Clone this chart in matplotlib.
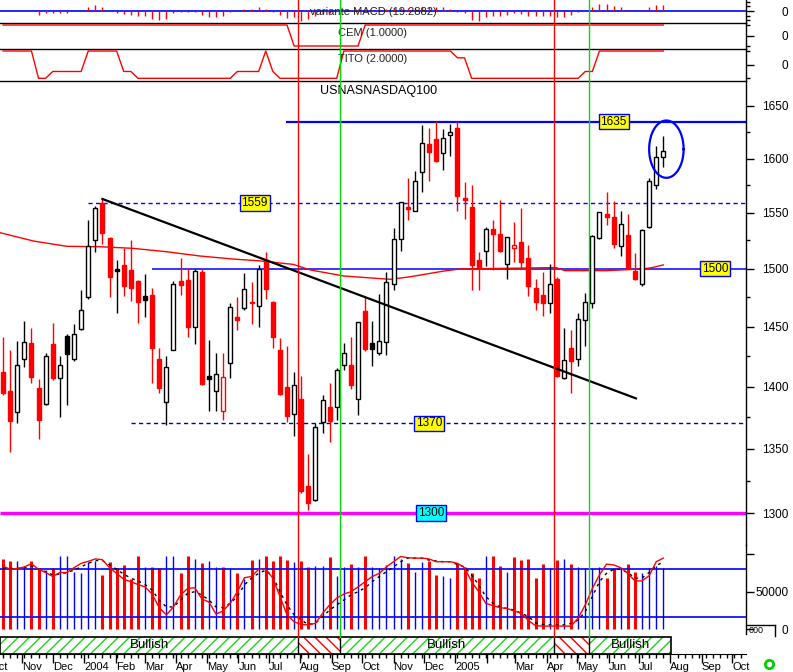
import numpy as np
import pandas as pd
import matplotlib
matplotlib.use("Agg")
import matplotlib.pyplot as plt
import matplotlib.dates as mdates
import matplotlib.transforms as mtransforms
from matplotlib.lines import Line2D
from matplotlib.patches import Rectangle
from matplotlib.ticker import FixedLocator, FuncFormatter, NullFormatter

plt.rcParams['font.family'] = ['Liberation Sans', 'DejaVu Sans']

# weekly bars NASDAQ 100, Oct 2003 - Jul 2005
weeks = pd.date_range('2003-10-13', periods=94, freq='7D')

bar_open = [1412, 1396, 1379, 1423, 1436, 1399, 1386, 1435, 1407, 1427,
            1423, 1448, 1475, 1525, 1559, 1527, 1500, 1503, 1499, 1489,
            1473, 1477, 1423, 1387, 1430, 1489, 1490, 1450, 1497, 1406,
            1396, 1408, 1419, 1458, 1466, 1471, 1468, 1508, 1471, 1430,
            1400, 1378, 1390, 1321, 1310, 1371, 1383, 1383, 1418, 1418,
            1390, 1463, 1431, 1428, 1437, 1487, 1526, 1555, 1552, 1587,
            1614, 1618, 1605, 1622, 1629, 1563, 1555, 1508, 1516, 1535,
            1531, 1504, 1521, 1524, 1509, 1483, 1477, 1470, 1491, 1407,
            1432, 1423, 1456, 1470, 1527, 1549, 1546, 1520, 1530, 1498,
            1487, 1537, 1575, 1601]
bar_high = [1441, 1430, 1438, 1455, 1449, 1406, 1428, 1453, 1425, 1444,
            1452, 1481, 1543, 1556, 1563, 1528, 1508, 1518, 1525, 1490,
            1495, 1483, 1432, 1425, 1489, 1509, 1501, 1500, 1500, 1439,
            1428, 1428, 1470, 1475, 1496, 1488, 1503, 1515, 1472, 1440,
            1434, 1412, 1409, 1346, 1370, 1393, 1403, 1415, 1436, 1441,
            1454, 1475, 1455, 1478, 1497, 1536, 1560, 1582, 1588, 1632,
            1629, 1636, 1628, 1633, 1636, 1578, 1575, 1515, 1537, 1543,
            1562, 1528, 1542, 1554, 1521, 1491, 1497, 1504, 1493, 1449,
            1447, 1462, 1479, 1530, 1551, 1569, 1561, 1552, 1549, 1514,
            1535, 1582, 1612, 1621]
bar_low = [1393, 1347, 1370, 1416, 1403, 1358, 1385, 1405, 1375, 1385,
           1421, 1447, 1474, 1515, 1522, 1475, 1462, 1476, 1472, 1453,
           1458, 1403, 1395, 1369, 1430, 1477, 1441, 1435, 1401, 1380,
           1380, 1373, 1407, 1447, 1464, 1452, 1450, 1474, 1432, 1393,
           1371, 1360, 1315, 1302, 1309, 1362, 1355, 1373, 1414, 1398,
           1377, 1429, 1417, 1426, 1426, 1481, 1516, 1543, 1552, 1569,
           1579, 1597, 1589, 1602, 1552, 1544, 1481, 1481, 1502, 1499,
           1515, 1491, 1506, 1500, 1476, 1464, 1459, 1462, 1408, 1406,
           1395, 1417, 1434, 1466, 1526, 1539, 1518, 1511, 1500, 1490,
           1485, 1536, 1572, 1592]
bar_close = [1395, 1372, 1418, 1437, 1408, 1373, 1425, 1407, 1418, 1442,
             1444, 1464, 1520, 1554, 1532, 1493, 1498, 1485, 1483, 1471,
             1476, 1432, 1399, 1416, 1487, 1486, 1450, 1498, 1402, 1409,
             1410, 1380, 1467, 1456, 1482, 1470, 1500, 1482, 1441, 1393.5,
             1376, 1401, 1317, 1308, 1367.5, 1389, 1372, 1414, 1427.5, 1401,
             1453.7, 1431, 1436, 1438, 1488, 1526, 1559.5, 1553, 1579, 1615,
             1606, 1598, 1619, 1625, 1565, 1561.6, 1503, 1501, 1535, 1531,
             1516, 1527.8, 1518, 1506, 1485, 1471, 1470.5, 1487, 1408.7, 1422,
             1421, 1456.5, 1471, 1529, 1551, 1546, 1522, 1539.5, 1500.4, 1491,
             1534.4, 1579, 1601, 1607]
# w = hollow, r = red, k = black, h = hollow red
bar_type = ("rrwwrrwrwk" "wwwwrrkrrr" "krrwwrrwrk" "whwrwrwrrr" "rwrrwwrwwr"
            "wrkwwwwrww" "rrwwrrrrwr" "rwhrrrrwrw" "rwwwwrrwrr" "wwww")

volume = [93500, 91000, 91000, 83000, 91000, 82000, 79000, 82000, 97500, 97500,
          76500, 75000, 90000, 91000, 72000, 90000, 82000, 85500, 66500, 97500,
          83000, 83000, 82000, 97500, 97500, 74500, 97500, 93500, 88500, 91000,
          83000, 83000, 82000, 74500, 66500, 92000, 93500, 97500, 91000, 97500,
          92000, 90000, 91000, 83000, 84500, 84500, 96000, 71000, 83000, 86500,
          83000, 97500, 83000, 82000, 85500, 97500, 93500, 88000, 76500, 90000,
          91000, 72000, 71000, 68000, 88000, 83000, 75000, 68000, 97500, 97500,
          84500, 76500, 96000, 92000, 93500, 68500, 87000, 81000, 92000, 93500,
          87000, 83000, 82000, 81000, 83000, 68000, 81000, 82000, 87000, 76500,
          74500, 82000, 84500, 82000]

stoch_k = [84, 80, 81, 83, 87, 80, 76, 71, 76, 76,
           82, 87.5, 90, 93, 92, 82, 75, 67.5, 64.5, 61,
           58, 49, 32, 23, 33, 48, 56, 57, 43, 39,
           24, 28, 37.5, 52, 69.5, 71, 80, 80, 69, 46,
           23, 14.5, 11, 10.5, 12.5, 25, 35.5, 44, 49, 52,
           58, 64.5, 71, 75, 83, 89.5, 96, 94.5, 94, 94,
           93, 89.5, 89.5, 89.5, 87.5, 82, 64.5, 52, 37.5, 34.5,
           32, 31, 28, 25, 16, 9.5, 9, 9, 9, 9,
           9, 19, 35.5, 56, 73, 86.5, 85.5, 82, 75, 65.5,
           65.5, 72, 89.5, 94]
stoch_d = [82, 81, 81, 82, 84, 80, 77, 73, 74, 76,
           79, 83, 87.5, 91, 91, 85.5, 80, 74, 69, 65.5,
           61, 54, 41.5, 33, 33, 41.5, 50, 52, 48, 41.5,
           33, 32, 37.5, 46, 60.5, 69, 75, 79, 71, 52,
           35.5, 23, 16.5, 11, 12.5, 21, 29, 35.5, 41.5, 48,
           52, 57, 64.5, 71, 77, 83, 89.5, 94, 94, 94,
           91.5, 90.5, 89.5, 89.5, 86, 83, 73, 60.5, 46, 37.5,
           33, 31, 29, 25, 21, 13, 11, 10.5, 10.5, 10.5,
           12.5, 16.5, 27, 46, 64.5, 75, 80, 80, 76, 69,
           69, 76, 84.5, 89.5]

macd_hist = [0, 0, 0, 0, 0, -4, -2.3, -2.3, -2.3, -1.7,
             -0.3, 0.3, 3.7, 6.3, 4.3, 0.3, -1.7, -3, -4, -4.7,
             -4.7, -8, -9, -8, -2.3, -0.5, -0.5, -0.5, -4, -5.7,
             -5.7, -4.7, -0.5, 0.5, 2, 2, 3.7, 2, -0.5, -4,
             -6.7, -5.7, -9.7, -8, -5, -3, -1.5, 0, 1, 1,
             1.5, 1, 1, 1.5, 2, 3, 3, 3, 3, 3.5,
             4, 4.3, 3.7, 2, -1.3, -2.3, -9, -9.7, -6.3, -4.7,
             -4.7, -4, -2.3, -3, -4.7, -4.7, -4.7, -4.7, -6.3, -5.7,
             -4, -1.3, 0, 3.7, 7, 7, 5.3, 4.3, 1, 0.3,
             0.3, 3.7, 6, 6]
cem = [1, 1, 1, 1, 1, 1, 1, 1, 1, 1,
       1, 1, 1, 1, 1, 1, 1, 1, 1, 1,
       1, 1, 1, 1, 1, 1, 1, 1, 1, 1,
       1, 1, 1, 1, 1, 1, 1, 1, 1, 1,
       1, 0, 0, 0, 0, 0, 0, 0, 0, 0,
       0, 1, 1, 1, 1, 1, 1, 1, 1, 1,
       1, 1, 1, 1, 1, 1, 1, 1, 1, 1,
       1, 1, 1, 1, 1, 1, 1, 1, 1, 1,
       1, 1, 1, 1, 1, 1, 1, 1, 1, 1,
       1, 1, 1, 1]
tito = [2, 2, 2, 2, 2, 0, 0, 0.5, 0.5, 0.5,
        0.5, 0.5, 2, 2, 2, 2, 2, 0.5, 0.5, 0,
        0, 0, 0, 0, 0, 0, 0, 0, 0, 0,
        0, 0, 0, 0.5, 0.5, 0.5, 0.5, 2, 0.5, 0,
        0, 0, 0, 0, 0, 0, 0, 0, 2, 2,
        2, 2, 2, 2, 2, 2, 2, 2, 2, 2,
        2, 2, 2, 2, 1.5, 1.5, 0, 0, 0, 0,
        0, 0, 0, 0, 0, 0, 0, 0, 0, 0,
        0, 0, 0.5, 0.5, 2, 2, 2, 2, 2, 2,
        2, 2, 2, 2]

# moving average
ma_dates = ['2003-10-10', '2003-11-12', '2003-12-15', '2004-01-17', '2004-02-18',
            '2004-03-22', '2004-04-24', '2004-05-27', '2004-06-22', '2004-07-25',
            '2004-08-11', '2004-09-13', '2004-10-16', '2004-10-29', '2004-11-18',
            '2004-12-21', '2005-01-06', '2005-03-06', '2005-04-10', '2005-04-19',
            '2005-05-30', '2005-07-05', '2005-07-14', '2005-07-25']
ma_values = [1532, 1524.5, 1519.8, 1519.4, 1518, 1515, 1511.2, 1508.5, 1506.9, 1503.8,
             1498.9, 1493.6, 1491.5, 1490.7, 1493, 1498, 1499.8, 1500.5, 1501, 1498.3,
             1498.3, 1499.8, 1501, 1503.3]

trend_dates = ['2004-01-19', '2005-06-28']
trend_values = [1562.5, 1390.3]

sell_dates = ['2004-07-30', '2005-04-08']
buy_dates = ['2004-09-09', '2005-05-13']
band_end = '2005-08-02'

W, H = 793, 672
fig = plt.figure(figsize=(W / 100, H / 100), dpi=100)


def px_axes(top, bottom, left=0, right=746):
    a = fig.add_axes([left / W, 1 - bottom / H, (right - left) / W, (bottom - top) / H])
    a.patch.set_visible(False)
    return a


d2n = mdates.datestr2num
x = mdates.date2num(weeks.to_pydatetime())
xmin, xmax = d2n('2003-10-10'), d2n('2005-10-14 12:00')
o, hi, lo, c = map(np.array, (bar_open, bar_high, bar_low, bar_close))

ax_macd = px_axes(0, 23.3)
ax_cem = px_axes(23.3, 49.3)
ax_tito = px_axes(49.3, 81.3)
ax_main = px_axes(81.3, 545)
ax_osc = px_axes(545, 634)
ax_sto = px_axes(545, 634)
ax_band = px_axes(636.7, 654)

for a in (ax_macd, ax_cem, ax_tito, ax_main, ax_osc):
    a.set_xlim(xmin, xmax)
    a.yaxis.tick_right()
    a.tick_params(axis='x', which='both', bottom=False, labelbottom=False)
    a.tick_params(axis='y', which='major', length=5.5, width=1, pad=25, labelsize=8.5)
    a.tick_params(axis='y', which='minor', length=3, width=1)
    a.spines['left'].set_visible(False)
    a.spines['top'].set_visible(False)
    a.spines['right'].set_linewidth(1)
    a.spines['bottom'].set_linewidth(1)
    a.spines['bottom'].set_zorder(10)
for a in (ax_main, ax_osc):
    a.spines['bottom'].set_visible(False)

# MACD
ax_macd.set_ylim(-12.3, 11)
ax_macd.axhline(0, color='blue', lw=1.2)
ax_macd.vlines(x, 0, macd_hist, colors='red', lw=1)
ax_macd.yaxis.set_major_locator(FixedLocator([0]))
ax_macd.yaxis.set_minor_locator(FixedLocator([-9.3, -5, 5, 9.3]))
ax_macd.text(0.5, 0.5, 'variante MACD (19.2882)', transform=ax_macd.transAxes,
             ha='center', va='center', fontsize=8, color='#222222')

# CEM
ax_cem.set_ylim(-0.157, 1.081)
ax_cem.plot(x, cem, color='red', lw=1)
ax_cem.yaxis.set_major_locator(FixedLocator([0.5]))
ax_cem.yaxis.set_major_formatter(FuncFormatter(lambda v, p: '0'))
ax_cem.yaxis.set_minor_locator(FixedLocator([0, 1]))
ax_cem.text(0.5, 0.63, 'CEM (1.0000)', transform=ax_cem.transAxes,
            ha='center', va='center', fontsize=8, color='#222222')

# TITO
ax_tito.set_ylim(-0.22, 2.125)
ax_tito.plot(x, tito, color='red', lw=1)
ax_tito.yaxis.set_major_locator(FixedLocator([1]))
ax_tito.yaxis.set_major_formatter(FuncFormatter(lambda v, p: '0'))
ax_tito.yaxis.set_minor_locator(FixedLocator([0, 2]))
ax_tito.text(0.5, 0.70, 'TITO (2.0000)', transform=ax_tito.transAxes,
             ha='center', va='center', fontsize=8, color='#222222')

# price panel
ax_main.set_yscale('log')
ax_main.set_ylim(1275.9, 1674)
ax_main.yaxis.set_major_locator(FixedLocator(np.arange(1300, 1651, 50)))
ax_main.yaxis.set_major_formatter(FuncFormatter(lambda v, p: f'{v:.0f}'))
ax_main.yaxis.set_minor_locator(FixedLocator(np.arange(1275, 1676, 50)))
ax_main.yaxis.set_minor_formatter(NullFormatter())

ax_main.plot(mdates.datestr2num(ma_dates), ma_values, color='red', lw=1, zorder=2)

dash = (0, (3, 2.4))
ax_main.hlines(1635, d2n('2004-07-18'), xmax, colors='blue', lw=1.6, zorder=1.5)
ax_main.hlines(1559, d2n('2004-01-05'), xmax, colors='blue', lw=1, linestyles=dash, zorder=1.5)
ax_main.hlines(1500, d2n('2004-03-08'), xmax, colors='blue', lw=1.1, zorder=1.5)
ax_main.hlines(1370, d2n('2004-02-16'), xmax, colors='#0000aa', lw=1, linestyles=dash, zorder=1.5)
ax_main.hlines(1300, xmin, xmax, colors='#ff00ff', lw=2.4, zorder=1.5)

face = {'w': 'white', 'r': 'red', 'k': 'black', 'h': 'white'}
edge = {'w': 'black', 'r': 'red', 'k': 'black', 'h': 'red'}
top = np.maximum(o, c)
bot = np.minimum(o, c)
ax_main.vlines(x, lo, hi, colors=[edge[t] for t in bar_type], lw=1, zorder=3)
ax_main.bar(x, top - bot, bottom=bot, width=4.0,
            color=[face[t] for t in bar_type], edgecolor=[edge[t] for t in bar_type],
            linewidth=1, zorder=4)

ax_main.plot(mdates.datestr2num(trend_dates), trend_values, color='black', lw=1.6, zorder=5)

# circle around last bars
t = np.linspace(0, 2 * np.pi, 200)
ec_x = d2n('2005-07-28') + 17 * np.cos(t)
lc = (np.log(1636) + np.log(1582)) / 2
lr = (np.log(1636) - np.log(1582)) / 2
ax_main.plot(ec_x, np.exp(lc + lr * np.sin(t)), color='blue', lw=1.6, zorder=6)


def level_label(date, price, text, fc):
    ax_main.text(d2n(date), price, text, ha='center', va='center', fontsize=8.5, zorder=7,
                 bbox=dict(boxstyle='square,pad=0.15', fc=fc, ec='blue', lw=1))


level_label('2005-06-06', 1635, '1635', 'yellow')
level_label('2004-06-17', 1559, '1559', 'yellow')
level_label('2005-09-14', 1500, '1500', 'yellow')
level_label('2004-12-06', 1370, '1370', 'yellow')
level_label('2004-12-08', 1300, '1300', 'cyan')
ax_main.text(0.507, 0.979, 'USNASNASDAQ100', transform=ax_main.transAxes,
             ha='center', va='center', fontsize=9)

# volume + oscillator
ax_osc.set_ylim(-6251, 112119)
vol = np.array(volume)
down = c < o
ax_osc.vlines(x[down], 0, vol[down], colors='red', lw=2.2)
ax_osc.vlines(x[~down], 0, vol[~down], colors='blue', lw=1)
ax_osc.yaxis.set_major_locator(FixedLocator([0, 50000, 100000]))
ax_osc.yaxis.set_major_formatter(FuncFormatter(lambda v, p: '' if v > 60000 else f'{v:.0f}'))

ax_sto.axis('off')
ax_sto.set_xlim(xmin, xmax)
ax_sto.set_ylim(-0.875, 110.4)
ax_sto.axhline(80, color='blue', lw=1.2)
ax_sto.axhline(20, color='blue', lw=1.2)
ax_sto.plot(x, stoch_d, color='black', lw=1, linestyle=(0, (2, 3)))
ax_sto.plot(x, stoch_k, color='red', lw=1)

# signal band
ax_band.set_xlim(xmin, xmax)
ax_band.set_ylim(0, 1)
ax_band.set_yticks([])
for s in ('left', 'top', 'right'):
    ax_band.spines[s].set_visible(False)
bounds = [xmin] + sorted(list(d2n(sell_dates)) + list(d2n(buy_dates))) + [d2n(band_end)]
for i in range(len(bounds) - 1):
    bull = i % 2 == 0
    ax_band.axvspan(bounds[i], bounds[i + 1], facecolor='white',
                    edgecolor='#22d022' if bull else 'red',
                    hatch='///' if bull else '\\\\\\', lw=0)
    if bull:
        ax_band.text((bounds[i] + bounds[i + 1]) / 2, 0.5, 'Bullish', ha='center',
                     va='center', fontsize=9.5)
ax_band.vlines(bounds[1:-1], 0, 1, colors='black', lw=1)
ax_band.add_patch(Rectangle((xmin, 0), bounds[-1] - xmin, 1, fill=False, ec='black',
                            lw=1.2, clip_on=False))


def month_fmt(v, pos):
    d = mdates.num2date(v)
    if d.month == 1:
        return str(d.year)
    if d.month == 2 and d.year == 2005:
        return ''
    return d.strftime('%b')


ax_band.xaxis.set_major_locator(mdates.MonthLocator())
ax_band.xaxis.set_minor_locator(mdates.WeekdayLocator(byweekday=mdates.MO))
ax_band.xaxis.set_major_formatter(FuncFormatter(month_fmt))
ax_band.tick_params(axis='x', which='major', length=6.5, width=1, pad=-1, labelsize=8)
ax_band.tick_params(axis='x', which='minor', length=3, width=1)
oct_tr = mtransforms.blended_transform_factory(ax_band.transData, ax_band.transAxes) + \
    mtransforms.ScaledTranslation(0, -5.5 / 72, fig.dpi_scale_trans)
ax_band.text(d2n('2003-10-01'), 0, 'Oct', transform=oct_tr, ha='left', va='top',
             fontsize=8, clip_on=False)

# vertical signal lines
sig_tr = mtransforms.blended_transform_factory(ax_main.transData, fig.transFigure)
for d in sell_dates:
    fig.add_artist(Line2D([d2n(d)] * 2, [1 - 636.7 / H, 1], transform=sig_tr, color='red', lw=1))
for d in buy_dates:
    fig.add_artist(Line2D([d2n(d)] * 2, [1 - 636.7 / H, 1], transform=sig_tr, color='#00dd00', lw=1))

# small leftovers at the bottom right
fig.text(749 / W, 1 - 630.5 / H, '000', fontsize=6.5, va='center', ha='left')
fig.add_artist(Line2D([747 / W, 775 / W], [1 - 624.5 / H] * 2, color='black', lw=1))
fig.add_artist(Line2D([775 / W] * 2, [1 - 624.5 / H, 1 - 636 / H], color='black', lw=1))
fig.add_artist(Line2D([769 / W], [1 - 664 / H], marker='o', ms=6, mfc='none',
                      mec='#00d000', mew=2, transform=fig.transFigure))

fig.canvas.draw()
for a in (ax_macd, ax_cem, ax_tito, ax_main, ax_osc):
    plt.setp(a.get_yticklabels(), ha='right')
plt.setp(ax_band.get_xticklabels(), ha='left')

fig.savefig('out.png', dpi=100)
